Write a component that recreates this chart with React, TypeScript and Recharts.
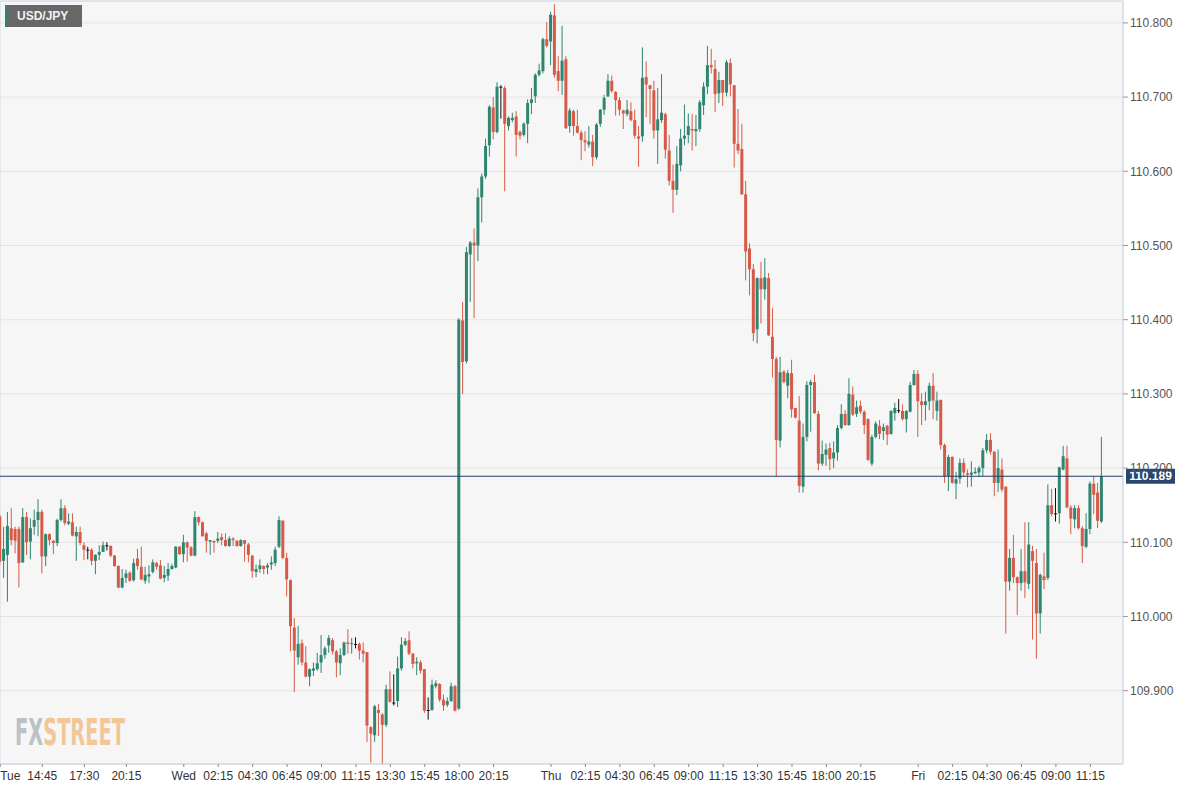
import React from 'react';
import { ComposedChart, Bar, XAxis, YAxis, CartesianGrid, ReferenceLine, ReferenceArea } from 'recharts';

// 15-minute candles, Tue 12:00 -> Fri 12:00
const opens = [
  110.135, 110.075, 110.083, 110.119, 110.118, 110.118, 110.073, 110.134, 110.101, 110.121, 110.130, 110.141,
  110.081, 110.111, 110.102, 110.099, 110.130, 110.146, 110.125, 110.127, 110.108, 110.114, 110.096, 110.090,
  110.090, 110.075, 110.083, 110.087, 110.096, 110.095, 110.082, 110.068, 110.039, 110.052, 110.059, 110.049,
  110.078, 110.067, 110.048, 110.054, 110.060, 110.072, 110.069, 110.052, 110.055, 110.064, 110.066, 110.094,
  110.084, 110.100, 110.093, 110.082, 110.134, 110.127, 110.112, 110.101, 110.102, 110.102, 110.107, 110.103,
  110.095, 110.105, 110.102, 110.095, 110.103, 110.097, 110.082, 110.060, 110.064, 110.068, 110.066, 110.070,
  110.072, 110.094, 110.129, 110.079, 110.049, 109.985, 109.945, 109.964, 109.938, 109.919, 109.927, 109.929,
  109.938, 109.948, 109.961, 109.968, 109.953, 109.937, 109.948, 109.965, 109.963, 109.963, 109.963, 109.954,
  109.952, 109.851, 109.840, 109.874, 109.868, 109.854, 109.902, 109.884, 109.886, 109.930, 109.962, 109.968,
  109.950, 109.937, 109.938, 109.929, 109.874, 109.874, 109.906, 109.909, 109.888, 109.881, 109.886, 109.906,
  109.876, 110.399, 110.344, 110.488, 110.504, 110.500, 110.565, 110.593, 110.635, 110.686, 110.653, 110.714,
  110.712, 110.661, 110.669, 110.674, 110.653, 110.649, 110.664, 110.692, 110.701, 110.730, 110.735, 110.778,
  110.775, 110.810, 110.735, 110.722, 110.751, 110.661, 110.681, 110.661, 110.652, 110.642, 110.636, 110.640,
  110.619, 110.664, 110.683, 110.701, 110.722, 110.707, 110.696, 110.682, 110.677, 110.681, 110.669, 110.647,
  110.647, 110.727, 110.716, 110.709, 110.655, 110.669, 110.677, 110.628, 110.587, 110.575, 110.608, 110.644,
  110.649, 110.657, 110.654, 110.657, 110.689, 110.714, 110.743, 110.738, 110.705, 110.723, 110.706, 110.746,
  110.716, 110.637, 110.630, 110.569, 110.496, 110.468, 110.387, 110.456, 110.441, 110.456, 110.377, 110.347,
  110.237, 110.330, 110.311, 110.328, 110.281, 110.264, 110.175, 110.242, 110.312, 110.316, 110.273, 110.206,
  110.218, 110.227, 110.213, 110.221, 110.254, 110.273, 110.258, 110.299, 110.273, 110.284, 110.276, 110.266,
  110.206, 110.242, 110.257, 110.250, 110.257, 110.246, 110.274, 110.278, 110.277, 110.266, 110.276, 110.312,
  110.327, 110.290, 110.285, 110.290, 110.311, 110.277, 110.292, 110.231, 110.189, 110.215, 110.179, 110.186,
  110.207, 110.193, 110.191, 110.193, 110.194, 110.200, 110.224, 110.238, 110.222, 110.180, 110.198, 110.175,
  110.047, 110.079, 110.053, 110.045, 110.061, 110.044, 110.088, 110.072, 110.004, 110.054, 110.052, 110.150,
  110.139, 110.139, 110.198, 110.213, 110.147, 110.131, 110.146, 110.119, 110.094, 110.118, 110.179, 110.167, 110.128,
];

const highs = [
  110.137, 110.121, 110.141, 110.146, 110.121, 110.121, 110.146, 110.141, 110.132, 110.144, 110.158, 110.144,
  110.112, 110.112, 110.103, 110.132, 110.158, 110.150, 110.139, 110.139, 110.121, 110.121, 110.100, 110.094,
  110.092, 110.084, 110.096, 110.101, 110.100, 110.096, 110.083, 110.069, 110.064, 110.063, 110.061, 110.078,
  110.091, 110.094, 110.067, 110.069, 110.077, 110.074, 110.076, 110.068, 110.072, 110.071, 110.095, 110.095,
  110.110, 110.101, 110.095, 110.142, 110.135, 110.128, 110.114, 110.103, 110.102, 110.114, 110.112, 110.112,
  110.108, 110.107, 110.103, 110.104, 110.103, 110.099, 110.083, 110.070, 110.077, 110.069, 110.072, 110.081,
  110.094, 110.135, 110.130, 110.086, 110.050, 109.998, 109.987, 109.969, 109.960, 109.930, 109.938, 109.951,
  109.975, 109.960, 109.975, 109.971, 109.955, 109.957, 109.966, 109.983, 109.971, 109.972, 109.965, 109.965,
  109.952, 109.852, 109.881, 109.882, 109.870, 109.908, 109.926, 109.922, 109.946, 109.972, 109.971, 109.980,
  109.951, 109.945, 109.941, 109.929, 109.891, 109.915, 109.914, 109.910, 109.895, 109.891, 109.911, 109.908,
  110.402, 110.424, 110.498, 110.506, 110.523, 110.577, 110.597, 110.644, 110.689, 110.700, 110.720, 110.716,
  110.715, 110.674, 110.679, 110.681, 110.655, 110.666, 110.697, 110.712, 110.732, 110.745, 110.780, 110.801,
  110.815, 110.825, 110.755, 110.796, 110.755, 110.685, 110.683, 110.683, 110.655, 110.654, 110.661, 110.649,
  110.665, 110.684, 110.703, 110.731, 110.729, 110.708, 110.700, 110.683, 110.696, 110.693, 110.683, 110.661,
  110.767, 110.748, 110.716, 110.722, 110.712, 110.731, 110.679, 110.649, 110.609, 110.634, 110.657, 110.690,
  110.678, 110.677, 110.676, 110.696, 110.720, 110.769, 110.765, 110.750, 110.734, 110.723, 110.750, 110.752,
  110.716, 110.684, 110.664, 110.587, 110.503, 110.475, 110.457, 110.478, 110.483, 110.463, 110.416, 110.350,
  110.350, 110.332, 110.332, 110.346, 110.281, 110.297, 110.260, 110.317, 110.319, 110.326, 110.277, 110.237,
  110.233, 110.234, 110.236, 110.258, 110.286, 110.278, 110.321, 110.310, 110.291, 110.291, 110.278, 110.267,
  110.245, 110.263, 110.265, 110.260, 110.258, 110.278, 110.288, 110.293, 110.286, 110.278, 110.316, 110.332,
  110.332, 110.301, 110.303, 110.315, 110.328, 110.303, 110.292, 110.233, 110.218, 110.216, 110.195, 110.213,
  110.213, 110.198, 110.209, 110.201, 110.203, 110.227, 110.246, 110.247, 110.223, 110.225, 110.213, 110.175,
  110.091, 110.110, 110.054, 110.091, 110.127, 110.127, 110.095, 110.091, 110.058, 110.086, 110.178, 110.172,
  110.173, 110.202, 110.230, 110.230, 110.150, 110.150, 110.150, 110.122, 110.139, 110.182, 110.189, 110.180, 110.242,
];

const lows = [
  110.069, 110.052, 110.020, 110.096, 110.085, 110.039, 110.072, 110.083, 110.077, 110.110, 110.108, 110.058,
  110.068, 110.096, 110.084, 110.095, 110.128, 110.123, 110.123, 110.108, 110.075, 110.096, 110.076, 110.077,
  110.069, 110.057, 110.076, 110.087, 110.089, 110.080, 110.067, 110.038, 110.038, 110.045, 110.047, 110.047,
  110.063, 110.049, 110.044, 110.045, 110.058, 110.063, 110.050, 110.046, 110.048, 110.063, 110.065, 110.083,
  110.073, 110.074, 110.081, 110.081, 110.123, 110.108, 110.086, 110.083, 110.086, 110.099, 110.096, 110.094,
  110.094, 110.095, 110.094, 110.094, 110.074, 110.073, 110.052, 110.053, 110.059, 110.057, 110.057, 110.063,
  110.068, 110.092, 110.077, 110.027, 109.953, 109.898, 109.935, 109.934, 109.918, 109.906, 109.920, 109.927,
  109.924, 109.943, 109.951, 109.949, 109.918, 109.921, 109.947, 109.950, 109.950, 109.957, 109.942, 109.938,
  109.831, 109.803, 109.831, 109.839, 109.801, 109.851, 109.884, 109.880, 109.878, 109.927, 109.960, 109.948,
  109.930, 109.921, 109.923, 109.870, 109.861, 109.873, 109.903, 109.885, 109.873, 109.878, 109.885, 109.872,
  109.874, 110.300, 110.341, 110.424, 110.402, 110.479, 110.531, 110.590, 110.620, 110.643, 110.651, 110.671,
  110.573, 110.655, 110.666, 110.620, 110.643, 110.647, 110.638, 110.677, 110.692, 110.728, 110.732, 110.767,
  110.743, 110.726, 110.708, 110.703, 110.657, 110.652, 110.648, 110.651, 110.615, 110.627, 110.632, 110.607,
  110.616, 110.660, 110.676, 110.700, 110.706, 110.675, 110.675, 110.657, 110.674, 110.667, 110.644, 110.606,
  110.640, 110.673, 110.664, 110.644, 110.610, 110.665, 110.617, 110.581, 110.544, 110.568, 110.600, 110.635,
  110.638, 110.628, 110.634, 110.653, 110.676, 110.704, 110.732, 110.680, 110.692, 110.688, 110.701, 110.701,
  110.605, 110.623, 110.568, 110.453, 110.433, 110.371, 110.368, 110.395, 110.427, 110.378, 110.322, 110.189,
  110.228, 110.314, 110.294, 110.268, 110.267, 110.167, 110.167, 110.236, 110.249, 110.273, 110.197, 110.203,
  110.203, 110.197, 110.200, 110.210, 110.252, 110.257, 110.257, 110.270, 110.269, 110.273, 110.246, 110.210,
  110.203, 110.240, 110.239, 110.238, 110.231, 110.245, 110.264, 110.274, 110.264, 110.248, 110.275, 110.311,
  110.242, 110.258, 110.264, 110.278, 110.266, 110.264, 110.225, 110.180, 110.169, 110.179, 110.158, 110.179,
  110.188, 110.174, 110.175, 110.192, 110.188, 110.189, 110.220, 110.218, 110.162, 110.168, 110.168, 109.977,
  110.035, 110.045, 110.002, 110.035, 110.025, 110.037, 109.969, 109.943, 109.977, 110.037, 110.049, 110.135,
  110.128, 110.125, 110.197, 110.146, 110.111, 110.119, 110.117, 110.072, 110.092, 110.111, 110.138, 110.119, 110.126,
];

const closes = [
  110.074, 110.091, 110.122, 110.103, 110.102, 110.072, 110.134, 110.100, 110.119, 110.130, 110.141, 110.081,
  110.111, 110.103, 110.099, 110.130, 110.146, 110.126, 110.128, 110.109, 110.114, 110.099, 110.090, 110.090,
  110.075, 110.083, 110.087, 110.096, 110.096, 110.082, 110.068, 110.039, 110.052, 110.058, 110.048, 110.072,
  110.068, 110.050, 110.056, 110.057, 110.073, 110.067, 110.051, 110.056, 110.064, 110.068, 110.094, 110.084,
  110.100, 110.093, 110.082, 110.134, 110.127, 110.108, 110.102, 110.103, 110.100, 110.105, 110.103, 110.095,
  110.105, 110.103, 110.095, 110.103, 110.098, 110.083, 110.061, 110.064, 110.069, 110.064, 110.069, 110.073,
  110.090, 110.130, 110.079, 110.050, 109.987, 109.954, 109.963, 109.938, 109.919, 109.929, 109.930, 109.937,
  109.948, 109.957, 109.971, 109.953, 109.938, 109.948, 109.965, 109.963, 109.964, 109.963, 109.954, 109.950,
  109.853, 109.842, 109.879, 109.870, 109.854, 109.902, 109.885, 109.884, 109.930, 109.962, 109.967, 109.950,
  109.936, 109.939, 109.927, 109.873, 109.874, 109.908, 109.910, 109.888, 109.880, 109.886, 109.906, 109.873,
  110.400, 110.343, 110.491, 110.504, 110.500, 110.565, 110.593, 110.634, 110.687, 110.653, 110.714, 110.714,
  110.664, 110.672, 110.672, 110.649, 110.648, 110.664, 110.692, 110.697, 110.730, 110.736, 110.778, 110.769,
  110.811, 110.730, 110.722, 110.749, 110.658, 110.682, 110.661, 110.652, 110.642, 110.639, 110.640, 110.619,
  110.663, 110.683, 110.699, 110.722, 110.708, 110.696, 110.683, 110.678, 110.683, 110.669, 110.648, 110.644,
  110.726, 110.717, 110.711, 110.655, 110.670, 110.679, 110.629, 110.587, 110.575, 110.610, 110.644, 110.648,
  110.661, 110.655, 110.657, 110.693, 110.714, 110.743, 110.740, 110.704, 110.723, 110.706, 110.747, 110.717,
  110.637, 110.628, 110.569, 110.492, 110.468, 110.382, 110.456, 110.441, 110.457, 110.379, 110.347, 110.238,
  110.329, 110.316, 110.328, 110.279, 110.268, 110.176, 110.242, 110.312, 110.316, 110.274, 110.206, 110.219,
  110.225, 110.212, 110.221, 110.254, 110.273, 110.258, 110.300, 110.272, 110.282, 110.276, 110.258, 110.211,
  110.242, 110.260, 110.246, 110.255, 110.245, 110.277, 110.281, 110.278, 110.266, 110.277, 110.312, 110.327,
  110.290, 110.285, 110.290, 110.311, 110.291, 110.291, 110.231, 110.189, 110.215, 110.180, 110.185, 110.207,
  110.194, 110.191, 110.194, 110.195, 110.200, 110.224, 110.238, 110.222, 110.180, 110.200, 110.171, 110.047,
  110.079, 110.053, 110.045, 110.061, 110.046, 110.097, 110.075, 110.004, 110.056, 110.049, 110.150, 110.138,
  110.139, 110.201, 110.216, 110.147, 110.132, 110.146, 110.119, 110.095, 110.118, 110.179, 110.164, 110.129, 110.189,
];

// x-axis ticks (candle index) and their labels
const tickIndex = [0, 11, 22, 33, 48, 57, 66, 75, 84, 93, 102, 111, 120, 129, 144, 153, 162, 171, 180, 189, 198, 207, 216, 225, 240, 249, 258, 267, 276, 285];
const tickLabels = ['Tue', '14:45', '17:30', '20:15', 'Wed', '02:15', '04:30', '06:45', '09:00', '11:15', '13:30', '15:45', '18:00', '20:15', 'Thu', '02:15', '04:30', '06:45', '09:00', '11:15', '13:30', '15:45', '18:00', '20:15', 'Fri', '02:15', '04:30', '06:45', '09:00', '11:15'];
const dayStarts = [48, 144, 240];
const priceTicks = [109.9, 110.0, 110.1, 110.2, 110.3, 110.4, 110.5, 110.6, 110.7, 110.8];
const lastPrice = 110.189;

const X_MIN = -0.05;
const X_MAX = 293.54;
const Y_MIN = 109.8012;
const Y_MAX = 110.8295;

const GREEN = '#2f8570';
const RED = '#d75a48';
const FRAME = '#d3d9e6';

const data = opens.map((o, i) => {
  const c = closes[i];
  const h = Math.max(highs[i], o, c);
  const l = Math.min(lows[i], o, c);
  return { i, open: o, high: h, low: l, close: c, range: [l, h] };
});

const Candle = (props: any) => {
  const { x, y, width, height, payload } = props;
  if (x == null || y == null) return null;
  const { open, close, high, low } = payload;
  const color = open === close ? '#111' : close > open ? GREEN : RED;
  const top = Math.min(y, y + height);
  const h = Math.abs(height);
  const k = high > low ? h / (high - low) : 0;
  const yo = top + (high - open) * k;
  const yc = top + (high - close) * k;
  const cx = x + width / 2;
  const bodyTop = Math.min(yo, yc);
  const bodyH = Math.max(1, Math.abs(yo - yc));
  return (
    <g>
      <line x1={cx} x2={cx} y1={top} y2={top + h} stroke={color} strokeWidth={1} />
      <rect x={cx - 1.5} y={bodyTop} width={3} height={bodyH} fill={color} />
    </g>
  );
};

const TimeTick = (props: any) => {
  const { x, y, payload } = props;
  const idx = tickIndex.indexOf(payload.value);
  const label = idx >= 0 ? tickLabels[idx] : '';
  return (
    <text x={x} y={y} dy="0.71em" textAnchor={idx === 0 ? 'start' : 'middle'} fontSize={12} fill="#333">
      {label}
    </text>
  );
};

const PriceTag = (props: any) => {
  const vb = props.viewBox;
  if (!vb) return null;
  const left = vb.x + vb.width + 3;
  return (
    <g>
      <rect x={left} y={vb.y - 7.5} width={49} height={15} fill="#2a466f" />
      <text x={left + 24.5} y={vb.y} dy="0.35em" textAnchor="middle" fontSize={12} fontWeight="bold" fill="#fff">
        {lastPrice.toFixed(3)}
      </text>
    </g>
  );
};

export default function App() {
  return (
    <div style={{ position: 'absolute', left: 0, top: 0, width: 1194, height: 790, background: '#fff', fontFamily: 'Arial, "Liberation Sans", sans-serif' }}>
      <ComposedChart width={1194} height={790} data={data} margin={{ top: 1, right: 0, bottom: 0, left: 0 }}>
        <CartesianGrid
          fill="#f6f6f6"
          stroke="#e4e4e4"
          horizontal
          vertical
          verticalCoordinatesGenerator={({ xAxis }: any) =>
            xAxis && typeof xAxis.scale === 'function' ? dayStarts.map((d) => xAxis.scale(d)) : []
          }
        />
        <XAxis
          dataKey="i"
          type="number"
          domain={[X_MIN, X_MAX]}
          allowDataOverflow
          ticks={tickIndex}
          interval={0}
          tick={<TimeTick />}
          tickSize={3}
          tickMargin={4}
          tickLine={{ stroke: '#888' }}
          axisLine={{ stroke: FRAME }}
          height={26}
        />
        <YAxis
          orientation="right"
          type="number"
          domain={[Y_MIN, Y_MAX]}
          allowDataOverflow
          ticks={priceTicks}
          interval={0}
          tickFormatter={(v: number) => v.toFixed(3)}
          tick={{ fontSize: 12, fill: '#555' }}
          tickSize={5}
          tickMargin={2}
          tickLine={{ stroke: '#999' }}
          axisLine={{ stroke: FRAME }}
          width={71}
        />
        <ReferenceArea x1={X_MIN} x2={X_MAX} y1={Y_MIN} y2={Y_MAX} fill="none" stroke={FRAME} />
        <Bar dataKey="range" barSize={3} shape={<Candle />} isAnimationActive={false} />
        <ReferenceLine y={lastPrice} stroke="#233f69" strokeWidth={1} label={<PriceTag />} />
      </ComposedChart>
      <div
        style={{
          position: 'absolute', left: 5, top: 5, width: 77, height: 22, background: 'rgba(90,90,90,0.92)',
          borderLeft: `2px solid ${GREEN}`, boxSizing: 'border-box', color: '#f2f2f2', fontWeight: 'bold',
          fontSize: 12, lineHeight: '22px', paddingLeft: 10,
        }}
      >
        USD/JPY
      </div>
      <svg style={{ position: 'absolute', left: 12, top: 704, opacity: 0.75, overflow: 'visible' }} width={124} height={48}>
        <text x={3} y={41} fontSize={38} fontWeight="bold" fontFamily='"DejaVu Sans Condensed", "DejaVu Sans", sans-serif' textLength={110} lengthAdjust="spacingAndGlyphs">
          <tspan fill="#a9aeb8">FX</tspan>
          <tspan fill="#f2b679">STREET</tspan>
        </text>
      </svg>
    </div>
  );
}
